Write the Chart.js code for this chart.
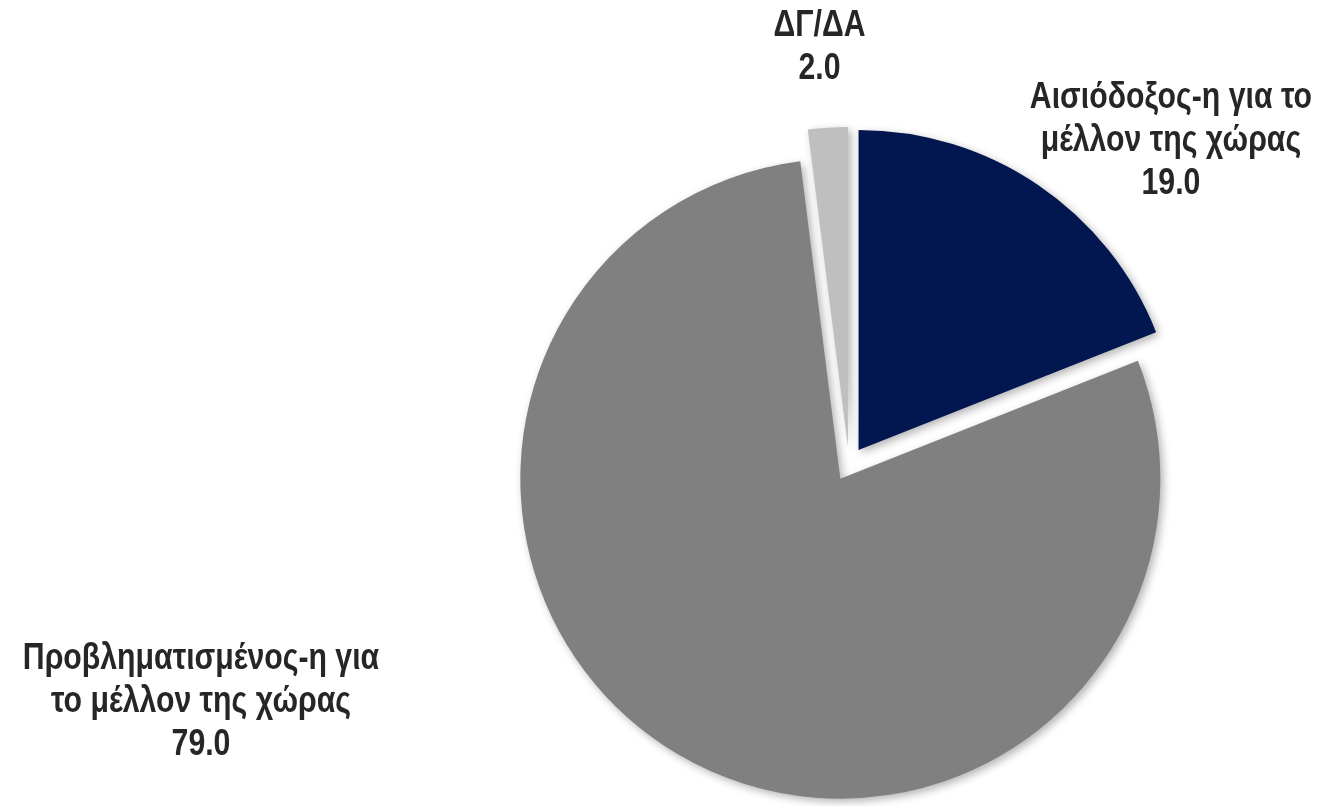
<!DOCTYPE html>
<html>
<head>
<meta charset="utf-8">
<script src="https://cdn.jsdelivr.net/npm/chart.js@4"></script>
<style>
  html, body { margin: 0; padding: 0; background: #fff; }
  #wrap { width: 1322px; height: 806px; position: relative; }
</style>
</head>
<body>
<div id="wrap"><canvas id="pie"></canvas></div>
<script>
const categories = ['Αισιόδοξος-η για το μέλλον της χώρας', 'Προβληματισμένος-η για το μέλλον της χώρας', 'ΔΓ/ΔΑ'];
const values = [19.0, 79.0, 2.0];
const labelLines = [
  ['Αισιόδοξος-η για το', 'μέλλον της χώρας'],
  ['Προβληματισμένος-η για', 'το μέλλον της χώρας'],
  ['ΔΓ/ΔΑ']
];
const colors = ['#02174F', '#808080', '#BFBFBF'];
// label block centre, relative to pie centre, in units of radius
const labelPos = [[1.006, -1.009], [-2.025, 0.744], [-0.092, -1.30]];

// narrow bold look: regular sans squeezed horizontally
const FONT = 'bold 36px "Liberation Sans", Arial, sans-serif';
const SQUEEZE = 0.84;
const EXPLODE = 17;

// push every slice out along its mid angle by the same distance (Excel style)
const explode = {
  id: 'explode',
  afterDatasetUpdate(chart, args) {
    args.meta.data.forEach(arc => {
      const mid = (arc.startAngle + arc.endAngle) / 2;
      arc.x += Math.cos(mid) * EXPLODE;
      arc.y += Math.sin(mid) * EXPLODE;
    });
  }
};

const shadow = {
  id: 'shadow',
  beforeDatasetsDraw(chart) {
    const ctx = chart.ctx;
    ctx.save();
    ctx.shadowColor = 'rgba(0,0,0,0.3)';
    ctx.shadowBlur = 8;
    ctx.shadowOffsetX = 3;
    ctx.shadowOffsetY = 3;
  },
  afterDatasetsDraw(chart) {
    chart.ctx.restore();
  }
};

const labels = {
  id: 'sliceLabels',
  afterDraw(chart) {
    const ctx = chart.ctx;
    const meta = chart.getDatasetMeta(0);
    const cx = (chart.chartArea.left + chart.chartArea.right) / 2;
    const cy = (chart.chartArea.top + chart.chartArea.bottom) / 2;
    const r = meta.data[0].outerRadius;
    ctx.save();
    ctx.font = FONT;
    ctx.fillStyle = '#262626';
    ctx.textAlign = 'center';
    ctx.textBaseline = 'middle';
    const lh = 43;
    meta.data.forEach((arc, i) => {
      const lines = labelLines[i].concat([values[i].toFixed(1)]);
      const x = cx + labelPos[i][0] * r;
      const y = cy + labelPos[i][1] * r - (lines.length - 1) * lh / 2;
      lines.forEach((t, k) => {
        ctx.save();
        ctx.translate(x, y + k * lh);
        ctx.scale(SQUEEZE, 1);
        ctx.fillText(t, 0, 0);
        ctx.restore();
      });
    });
    ctx.restore();
  }
};

new Chart(document.getElementById('pie'), {
  type: 'pie',
  data: {
    labels: categories,
    datasets: [{
      data: values,
      backgroundColor: colors,
      borderWidth: 0
    }]
  },
  options: {
    responsive: true,
    maintainAspectRatio: false,
    animation: false,
    radius: 320,
    layout: { padding: { left: 376, right: 0, top: 122, bottom: 0 } },
    plugins: {
      legend: { display: false },
      tooltip: { enabled: false }
    }
  },
  plugins: [explode, shadow, labels]
});
</script>
</body>
</html>
